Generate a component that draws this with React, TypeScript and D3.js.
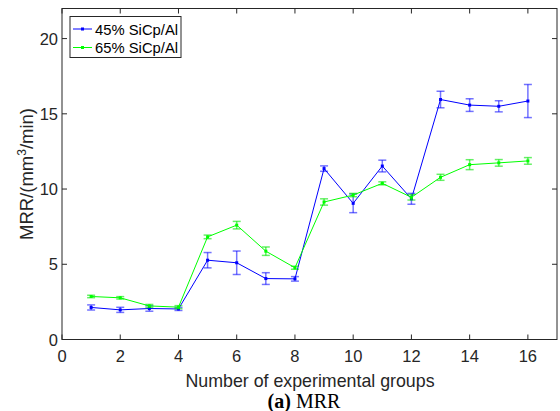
import React from "react";
import * as d3 from "d3";

const groups = [1, 2, 3, 4, 5, 6, 7, 8, 9, 10, 11, 12, 13, 14, 15, 16];
const mrr45 = [2.13, 1.97, 2.06, 2.03, 5.27, 5.1, 4.05, 4.03, 11.36, 9.05, 11.53, 9.35, 15.95, 15.58, 15.5, 15.85];
const err45 = [0.17, 0.17, 0.18, 0.1, 0.51, 0.78, 0.39, 0.15, 0.18, 0.62, 0.39, 0.36, 0.55, 0.42, 0.37, 1.1];
const mrr65 = [2.86, 2.77, 2.23, 2.15, 6.82, 7.6, 5.87, 4.77, 9.14, 9.6, 10.38, 9.45, 10.78, 11.62, 11.74, 11.87];
const err65 = [0.08, 0.08, 0.1, 0.1, 0.12, 0.25, 0.28, 0.1, 0.21, 0.11, 0.1, 0.18, 0.2, 0.33, 0.22, 0.22];
const xTicks = [0, 2, 4, 6, 8, 10, 12, 14, 16];
const yTicks = [0, 5, 10, 15, 20];
const seriesNames = ["45% SiCp/Al", "65% SiCp/Al"];

const W = 560;
const H = 411;
const L = 62, R = 557, T = 8.5, B = 339.5;
const FONT = "'Liberation Sans', Arial, Helvetica, sans-serif";
const AX = "#262626";

export default function App() {
  const x = d3.scaleLinear().domain([0, 17]).range([L, R]);
  const y = d3.scaleLinear().domain([0, 22]).range([B, T]);
  const line = d3
    .line<number>()
    .x((_, i) => x(groups[i]))
    .y((d) => y(d));

  const series = [
    { vals: mrr45, errs: err45, color: "#0000ff", ecolor: "rgba(0,0,255,0.55)" },
    { vals: mrr65, errs: err65, color: "#00ff00", ecolor: "rgba(0,230,0,0.6)" },
  ];
  const cap = 4;
  const tl = 5;

  return (
    <svg
      width={W}
      height={H}
      style={{ position: "absolute", left: 0, top: 0, background: "#fff" }}
      fontFamily={FONT}
    >
      <rect x={0} y={0} width={W} height={H} fill="#fff" />
      {/* box */}
      <rect x={L} y={T} width={R - L} height={B - T} fill="none" stroke={AX} strokeWidth={1} />
      {/* ticks */}
      {xTicks.map((t) => (
        <g key={"xt" + t}>
          <line x1={x(t)} x2={x(t)} y1={B} y2={B - tl} stroke={AX} />
          <line x1={x(t)} x2={x(t)} y1={T} y2={T + tl} stroke={AX} />
          <text x={x(t)} y={362} fontSize={16.5} textAnchor="middle" fill={AX}>
            {t}
          </text>
        </g>
      ))}
      {yTicks.map((t) => (
        <g key={"yt" + t}>
          <line x1={L} x2={L + tl} y1={y(t)} y2={y(t)} stroke={AX} />
          <line x1={R} x2={R - tl} y1={y(t)} y2={y(t)} stroke={AX} />
          <text x={L - 4} y={y(t) + 6} fontSize={16.5} textAnchor="end" fill={AX}>
            {t}
          </text>
        </g>
      ))}
      {/* series */}
      {series.map((s, si) => (
        <g key={"s" + si}>
          {s.vals.map((v, i) => {
            const cx = x(groups[i]);
            const y1 = y(v - s.errs[i]);
            const y2 = y(v + s.errs[i]);
            return (
              <g key={i} stroke={s.ecolor} strokeWidth={1.5}>
                <line x1={cx} x2={cx} y1={y1} y2={y2} />
                <line x1={cx - cap} x2={cx + cap} y1={y1} y2={y1} />
                <line x1={cx - cap} x2={cx + cap} y1={y2} y2={y2} />
              </g>
            );
          })}
          <path d={line(s.vals) || ""} fill="none" stroke={s.color} strokeWidth={1} />
          {s.vals.map((v, i) => (
            <rect
              key={"m" + i}
              x={x(groups[i]) - 1.5}
              y={y(v) - 1.5}
              width={3}
              height={3}
              fill={s.color}
            />
          ))}
        </g>
      ))}
      {/* legend */}
      <rect x={70} y={16.5} width={111} height={41} fill="#fff" stroke={AX} strokeWidth={1} />
      {seriesNames.map((n, i) => (
        <g key={"lg" + i}>
          <line x1={73} x2={92} y1={29 + i * 18.5} y2={29 + i * 18.5} stroke={series[i].color} />
          <rect x={81} y={27.5 + i * 18.5} width={3} height={3} fill={series[i].color} />
          <text x={95} y={34.5 + i * 18.5} fontSize={14.8} fill="#000">
            {n}
          </text>
        </g>
      ))}
      {/* axis labels */}
      <text x={310} y={387} fontSize={17.8} textAnchor="middle" fill={AX}>
        Number of experimental groups
      </text>
      <text
        transform={`translate(33,${(T + B) / 2}) rotate(-90)`}
        fontSize={18.5}
        textAnchor="middle"
        fill={AX}
      >
        MRR/(mm
        <tspan dy={-7} fontSize={12}>3</tspan>
        <tspan dy={7}>/min)</tspan>
      </text>
      <text
        x={304}
        y={408}
        fontSize={20}
        textAnchor="middle"
        fill="#000"
        fontFamily="'Liberation Serif', 'Times New Roman', serif"
      >
        <tspan fontWeight="bold">(a)</tspan> MRR
      </text>
    </svg>
  );
}
